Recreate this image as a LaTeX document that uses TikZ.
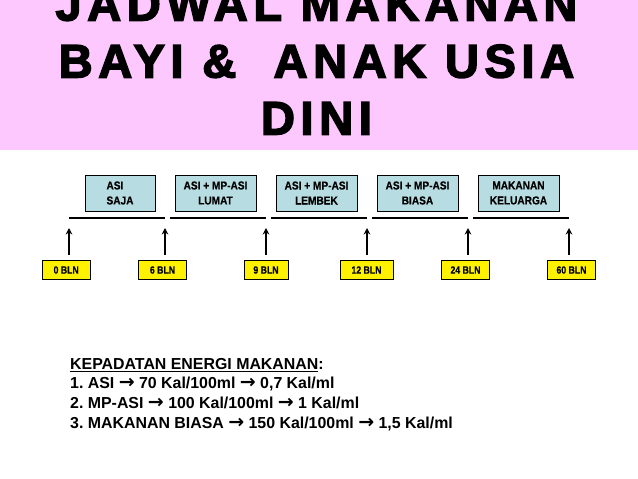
\documentclass[tikz,border=0pt]{standalone}
\usepackage{fontspec}
\setmainfont{Liberation Sans}
\newfontfamily\titlefont[FakeBold=3.2,LetterSpace=12]{Liberation Sans Bold}
\newfontfamily\boxfont[FakeStretch=0.88,FakeBold=0.4]{Liberation Sans Bold}
\newfontfamily\agefont[FakeStretch=0.83,FakeBold=0.4]{Liberation Sans Bold}
\newfontfamily\arrowfont{DejaVu Sans Bold}
\definecolor{bannerpink}{HTML}{FDC8FD}
\definecolor{stageblue}{HTML}{B7DDE3}
\newcommand{\ra}{{\arrowfont\fontsize{19}{19}\selectfont →}}
\tikzset{
  stage/.style={draw,line width=0.9pt,fill=stageblue,minimum height=36pt,inner sep=0pt,align=center,font=\boxfont\fontsize{11.5}{15}\selectfont},
  age/.style={draw,line width=0.9pt,fill=yellow,minimum height=19.5pt,inner sep=0pt,font=\agefont\fontsize{10.5}{12}\selectfont},
  bar/.style={line width=2.6pt},
  up/.style={line width=1.4pt,-{Stealth[length=6.5pt,width=6.5pt]},shorten <=5pt}
}
\usetikzlibrary{arrows.meta}
\frenchspacing
\begin{document}
\begin{tikzpicture}[x=1pt,y=-1pt]
\useasboundingbox (0,0) rectangle (638,479);
\clip (0,0) rectangle (638,479);
\fill[bannerpink] (0,0) rectangle (638,150);
\node[anchor=base,align=center,font=\titlefont\fontsize{47}{57}\selectfont] (title) at (316.5,134.5) {JADWAL MAKANAN\\BAYI \&\ \ ANAK USIA\\DINI};

\node[stage,minimum width=70pt,align=left] (s1) at (120,193) {ASI\\SAJA};
\node[stage,minimum width=81pt] (s2) at (215.5,193) {ASI + MP-ASI\\LUMAT};
\node[stage,minimum width=81pt] (s3) at (316.5,193) {ASI + MP-ASI\\LEMBEK};
\node[stage,minimum width=81pt] (s4) at (417.5,193) {ASI + MP-ASI\\BIASA};
\node[stage,minimum width=81pt] (s5) at (518.5,193) {MAKANAN\\KELUARGA};

\coordinate (a1) at (69,218);
\coordinate (b1) at (165,218);
\coordinate (a2) at (170,218);
\coordinate (b2) at (266,218);
\coordinate (a3) at (271,218);
\coordinate (b3) at (367,218);
\coordinate (a4) at (372,218);
\coordinate (b4) at (468,218);
\coordinate (a5) at (473,218);
\coordinate (b5) at (569,218);
\draw[bar] (a1) -- (b1);
\draw[bar] (a2) -- (b2);
\draw[bar] (a3) -- (b3);
\draw[bar] (a4) -- (b4);
\draw[bar] (a5) -- (b5);

\node[age,minimum width=48.5pt] (m0) at (66.2,270) {0 BLN};
\node[age,minimum width=48.5pt] (m6) at (162.5,270) {6 BLN};
\node[age,minimum width=44pt] (m9) at (266,270) {9 BLN};
\node[age,minimum width=53pt] (m12) at (366.5,270) {12 BLN};
\node[age,minimum width=48.5pt] (m24) at (465.5,270) {24 BLN};
\node[age,minimum width=48.5pt] (m60) at (571.5,270) {60 BLN};

\coordinate (t0) at (69,228);
\coordinate (t6) at (165,228);
\coordinate (t9) at (266,228);
\coordinate (t12) at (367,228);
\coordinate (t24) at (468,228);
\coordinate (t60) at (569,228);
\draw[up] (m0.north -| t0) -- (t0);
\draw[up] (m6.north -| t6) -- (t6);
\draw[up] (m9.north -| t9) -- (t9);
\draw[up] (m12.north -| t12) -- (t12);
\draw[up] (m24.north -| t24) -- (t24);
\draw[up] (m60.north -| t60) -- (t60);

\node[anchor=base west,inner sep=0pt,align=left,font=\bfseries\fontsize{15.9}{19.6}\selectfont] (energy) at (70,428) {\underline{KEPADATAN ENERGI MAKANAN}:\\1. ASI \ra{} 70 Kal/100ml \ra{} 0,7 Kal/ml\\2. MP-ASI \ra{} 100 Kal/100ml \ra{} 1 Kal/ml\\3. MAKANAN BIASA \ra{} 150 Kal/100ml \ra{} 1,5 Kal/ml};
\end{tikzpicture}
\end{document}
